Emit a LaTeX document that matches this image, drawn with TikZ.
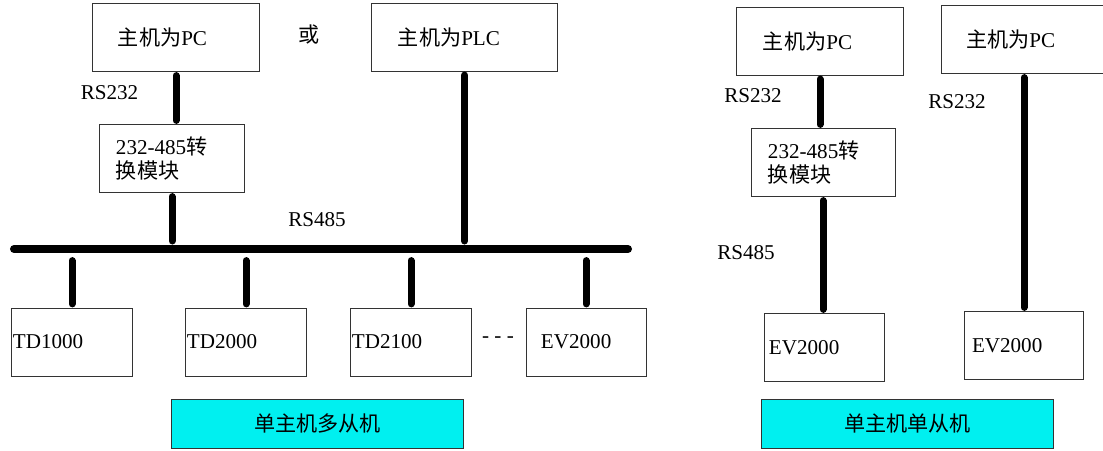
\documentclass[tikz,border=0pt]{standalone}
\usepackage{fontspec}
\setmainfont{Liberation Serif}
\newfontfamily\cjk{Noto Sans CJK SC}
\usetikzlibrary{positioning}
\definecolor{modecyan}{RGB}{0,240,240}

\begin{document}
\begin{tikzpicture}[
    x=0.025cm, y=-0.025cm,
    every node/.style={font=\fontsize{15}{17}\selectfont},
    devbox/.style 2 args={draw=black!80, line width=0.7pt, minimum height=1.7cm,
        align=left, text width=#1, inner xsep=#2, inner ysep=0pt},
    modebox/.style={draw=black!80, line width=0.7pt, fill=modecyan,
        minimum width=7.275cm, minimum height=1.225cm, font=\fontsize{15}{17}\selectfont\cjk},
    wire/.style={line width=0.175cm, line cap=round, shorten <=0.09cm, shorten >=0.09cm},
    busline/.style={line width=0.2cm, line cap=round}
]
\useasboundingbox (0,0) rectangle (1103,450);

% Hosts and converter, single master / many slaves
\node[devbox={2.9cm}{0.625cm}] (pcA) at (176,37.5) {{\cjk 主机为}PC};
\node[devbox={3.325cm}{0.65cm}] (plc) at (464.5,37) {{\cjk 主机为}PLC};
\node[font=\fontsize{15}{17}\selectfont\cjk] (orA) at (309,35) {或};
\node[devbox={2.8cm}{0.4cm}] (convA) at (172,158.5) {232-485{\cjk 转}\\{\cjk 换模块}};
\node (rsA) at (109.5,93) {RS232};
\node (rsB) at (317,220) {RS485};

% Bus
\coordinate (busL) at (14,249);
\coordinate (busR) at (628,249);
\draw[busline] (busL) -- (busR);

% Slaves
\node[devbox={2.95cm}{0.025cm}] (tdA) at (72,342) {TD1000};
\node[devbox={2.95cm}{0.025cm}] (tdB) at (246,342) {TD2000};
\node[devbox={2.95cm}{0.025cm}] (tdC) at (411,342) {TD2100};
\node[devbox={2.25cm}{0.375cm}] (evA) at (586,342) {EV2000};
\node (dots) at (498,340) {- - -};
\node[modebox] (modeA) at (317.5,423.5) {单主机多从机};

% Connections
\draw[wire] (pcA.south) -- (pcA.south |- convA.north);
\draw[wire, shorten >=0.2cm] (convA.south) -- (convA.south |- busL);
\draw[wire, shorten >=0.2cm] (plc.south) -- (plc.south |- busL);
\foreach \s in {tdA,tdB,tdC,evA}
    \draw[wire, shorten <=0.29cm] (\s.north |- busL) -- (\s.north);

% Single master / single slave
\node[devbox={2.85cm}{0.65cm}] (pcB) at (820,41) {{\cjk 主机为}PC};
\node[devbox={2.9cm}{0.625cm}] (pcC) at (1024,39.5) {{\cjk 主机为}PC};
\node[devbox={2.75cm}{0.425cm}] (convB) at (823,162.5) {232-485{\cjk 转}\\{\cjk 换模块}};
\node[devbox={2.75cm}{0.125cm}] (evB) at (824,347.5) {EV2000};
\node[devbox={2.575cm}{0.2cm}] (evC) at (1023.5,345.5) {EV2000};
\node (rsC) at (753,96) {RS232};
\node (rsD) at (746,253) {RS485};
\node (rsE) at (957,102) {RS232};
\node[modebox] (modeB) at (907.5,423.5) {单主机单从机};

\draw[wire] (pcB.south) -- (pcB.south |- convB.north);
\draw[wire] (convB.south) -- (convB.south |- evB.north);
\draw[wire] (pcC.south) -- (pcC.south |- evC.north);

\end{tikzpicture}
\end{document}
